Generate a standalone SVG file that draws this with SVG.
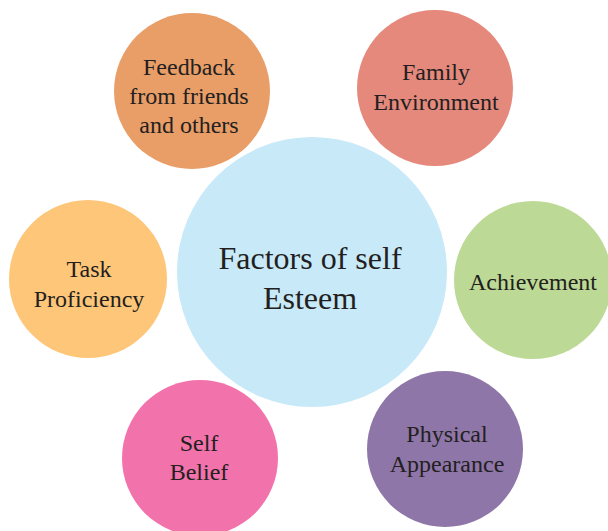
<svg xmlns="http://www.w3.org/2000/svg" width="608" height="531" viewBox="0 0 608 531">
<style>
text{font-family:"Liberation Serif","DejaVu Serif",serif;fill:#231F20;text-anchor:middle;font-size:24px}
.big{font-size:32px}
</style>
<rect width="608" height="531" fill="#fff"/>
<g id="connectors"></g>
<g id="feedback"><circle cx="192" cy="91" r="78" fill="#E99D67"/><text x="189" y="75">Feedback</text><text x="189" y="104">from friends</text><text x="189" y="133">and others</text></g>
<g id="family"><circle cx="435" cy="88" r="78" fill="#E5897D"/><text x="436" y="80">Family</text><text x="436" y="110">Environment</text></g>
<g id="task"><circle cx="88" cy="279" r="79" fill="#FEC679"/><text x="89" y="277">Task</text><text x="89" y="307">Proficiency</text></g>
<g id="achievement"><circle cx="533" cy="280" r="79" fill="#BDD996"/><text x="533" y="290">Achievement</text></g>
<g id="selfbelief"><circle cx="200" cy="458" r="78" fill="#F272AB"/><text x="199" y="451">Self</text><text x="199" y="480">Belief</text></g>
<g id="physical"><circle cx="445" cy="449" r="78" fill="#8E76A9"/><text x="447" y="442">Physical</text><text x="447" y="472">Appearance</text></g>
<g id="center"><circle cx="312" cy="272" r="135" fill="#C8E9F8"/><text class="big" x="310" y="269">Factors of self</text><text class="big" x="310" y="309">Esteem</text></g>
</svg>
